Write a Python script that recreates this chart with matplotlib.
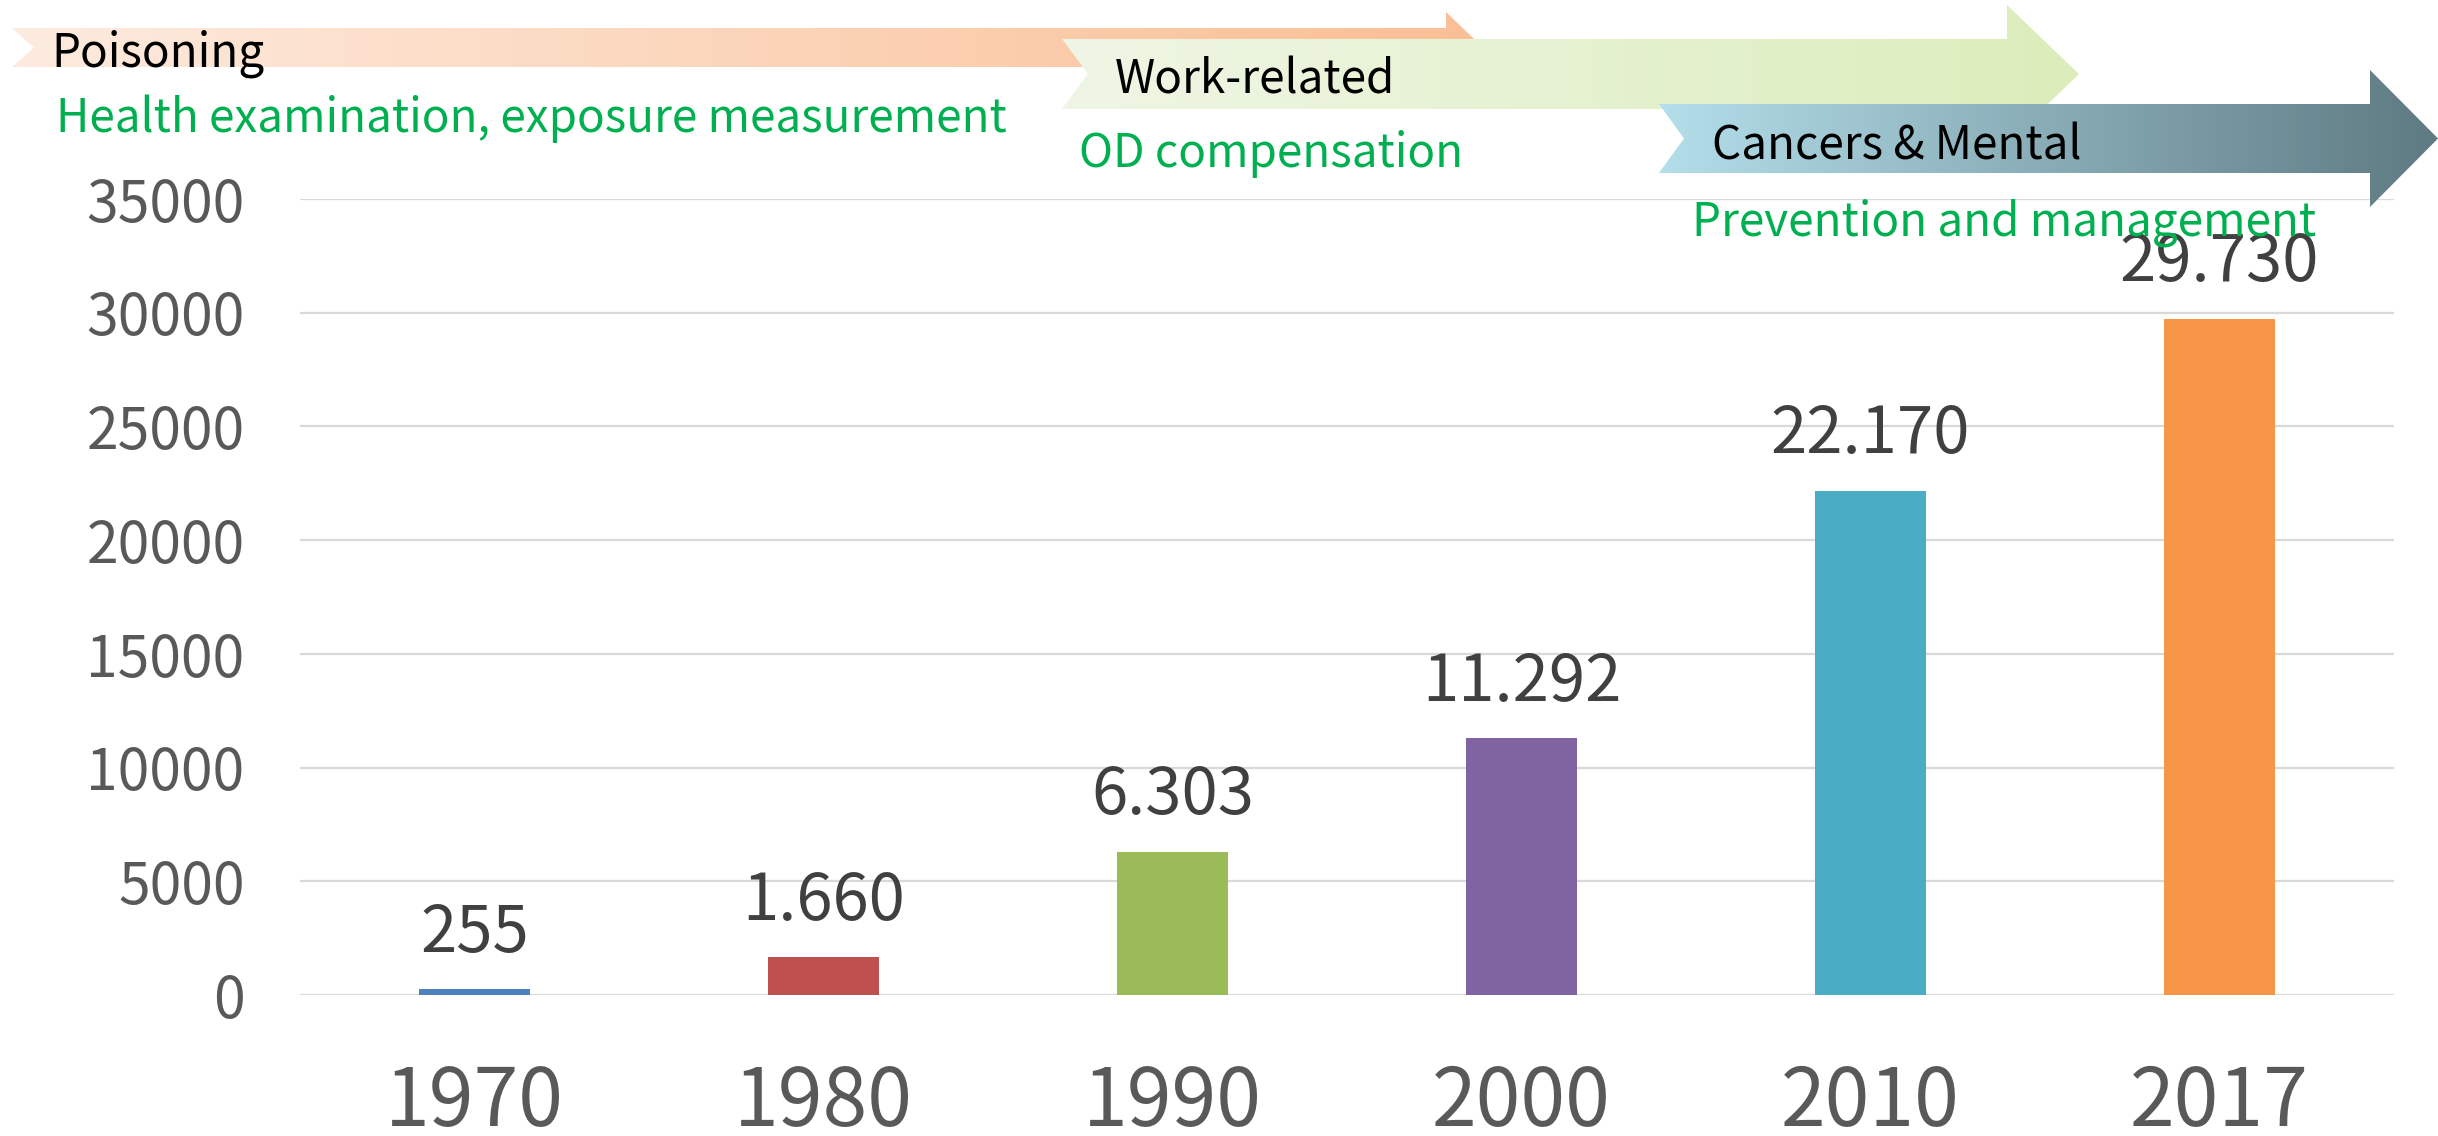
import numpy as np
import matplotlib
matplotlib.use('Agg')
import matplotlib.pyplot as plt
from matplotlib.patches import Polygon
from matplotlib.colors import LinearSegmentedColormap

plt.rcParams['font.family'] = ['Noto Sans CJK KR', 'DejaVu Sans']

# data
years = ['1970', '1980', '1990', '2000', '2010', '2017']
cases = [255, 1660, 6303, 11292, 22170, 29730]
bar_colors = ['#4F81BD', '#C0504D', '#9BBB59', '#8064A2', '#4BACC6', '#F79646']

phase_titles = ['Poisoning', 'Work-related', 'Cancers & Mental']
phase_actions = ['Health examination, exposure measurement',
                 'OD compensation',
                 'Prevention and management']
phase_colors = [('#FDEBDF', '#FABF95'),
                ('#EFF6E5', '#DCEDBB'),
                ('#B3DEEA', '#5E7A82')]

W, H = 2438, 1136
fig = plt.figure(figsize=(W / 100, H / 100), dpi=100)

# main bar chart
ax = fig.add_axes([300 / W, 1 - 995 / H, (2394 - 300) / W, (995 - 199) / H])
x = np.arange(len(years))
bars = ax.bar(x, cases, width=0.32, color=bar_colors, zorder=3)
ax.set_xlim(-0.5, len(years) - 0.5)
ax.set_ylim(0, 35000)
ax.set_yticks(np.arange(0, 35001, 5000))
ax.set_xticks(x)
ax.set_xticklabels(years)
ax.yaxis.grid(True, color='#D9D9D9', linewidth=1.6, zorder=0)
ax.set_axisbelow(True)
for s in ax.spines.values():
    s.set_visible(False)
ax.tick_params(axis='y', length=0, pad=40, labelsize=41, labelcolor='#595959')
ax.tick_params(axis='x', length=0, pad=48, labelsize=58, labelcolor='#595959')

for b, v in zip(bars, cases):
    lbl = f'{v:,}'.replace(',', '.')
    ax.annotate(lbl, (b.get_x() + b.get_width() / 2, v), xytext=(0, 27),
                textcoords='offset points', ha='center', va='baseline',
                fontsize=47, color='#404040', zorder=5)

# overlay in pixel coords for the phase arrows
ov = fig.add_axes([0, 0, 1, 1], facecolor='none')
ov.set_xlim(0, W)
ov.set_ylim(H, 0)
ov.axis('off')


def draw_arrow(x0, notch, yt, yb, xh, hy0, hy1, xt, c0, c1, z):
    yc = (yt + yb) / 2
    pts = [(x0, yt), (xh, yt), (xh, hy0), (xt, (hy0 + hy1) / 2), (xh, hy1),
           (xh, yb), (x0, yb), (x0 + notch, yc)]
    poly = Polygon(pts, closed=True, facecolor='none', edgecolor='none')
    ov.add_patch(poly)
    cmap = LinearSegmentedColormap.from_list('g', [c0, c1])
    grad = np.linspace(0, 1, 256).reshape(1, -1)
    im = ov.imshow(grad, cmap=cmap, extent=(x0, xt, hy1, hy0), aspect='auto',
                   zorder=z, interpolation='bilinear')
    im.set_clip_path(poly)


draw_arrow(12, 22, 28, 67, 1446, 12, 83, 1483, *phase_colors[0], z=1)
draw_arrow(1062, 26, 39, 109, 2007, 5, 143, 2079, *phase_colors[1], z=2)
draw_arrow(1659, 25, 104, 173, 2370, 70, 207, 2438, *phase_colors[2], z=3)
ov.set_xlim(0, W)
ov.set_ylim(H, 0)

title_pos = [(51, 54), (1115, 80), (1712, 146)]
action_pos = [(56, 119), (1079, 154), (1692, 223)]
for t, (tx, ty) in zip(phase_titles, title_pos):
    ov.text(tx, ty, t, fontsize=33, color='black', ha='left', va='center', zorder=10)
for t, (tx, ty) in zip(phase_actions, action_pos):
    ov.text(tx, ty, t, fontsize=33, color='#00B050', ha='left', va='center', zorder=10)

fig.savefig('out.png', dpi=100, facecolor='white')
